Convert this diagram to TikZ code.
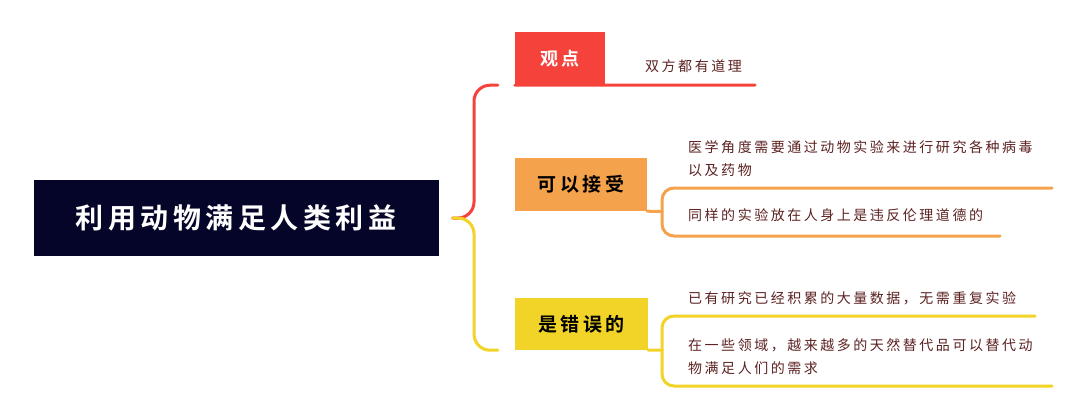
\documentclass[tikz,border=0pt]{standalone}
\usepackage{fontspec}
\usepackage{tikz}
\usetikzlibrary{calc, positioning}
\newfontfamily\cjk[LetterSpace=18, BoldFont={Noto Sans CJK SC Bold}]{Noto Sans CJK SC}
\newfontfamily\cjkwide[LetterSpace=16, BoldFont={Noto Sans CJK SC Bold}]{Noto Sans CJK SC}
\definecolor{navy}{HTML}{05052A}
\definecolor{redb}{HTML}{F5433B}
\definecolor{orangeb}{HTML}{F5A24C}
\definecolor{yellowb}{HTML}{F2D327}
\definecolor{leaftext}{HTML}{5C2121}
\tikzstyle{topic} = [rectangle, inner sep=0pt, text centered]
\tikzstyle{leaf} = [anchor=west, inner sep=0pt, align=left, text=leaftext, font=\cjk\fontsize{14}{23}\selectfont]
\tikzstyle{branch} = [line width=3pt, line cap=round, rounded corners=16pt]

\begin{document}
\begin{tikzpicture}[x=1pt, y=-1pt]
        \useasboundingbox (0,0) rectangle (1080,413);

        \node[topic, fill=navy, minimum width=405pt, minimum height=76pt, text=white,
              font=\cjkwide\bfseries\fontsize{28}{30}\selectfont] (root) at (236, 218) {利用动物满足人类利益};

        \node[topic, fill=redb, minimum width=90pt, minimum height=53pt, text=white,
              font=\cjk\bfseries\fontsize{18}{20}\selectfont] (view) at (560, 58.5) {观点};
        \node[topic, fill=orangeb, minimum width=132pt, minimum height=53pt, text=black,
              font=\cjk\bfseries\fontsize{19}{20}\selectfont] (accept) at (581, 184.5) {可以接受};
        \node[topic, fill=yellowb, minimum width=133pt, minimum height=52pt, text=black,
              font=\cjk\bfseries\fontsize{19}{20}\selectfont] (wrong) at (581.5, 324) {是错误的};

        \node[leaf] (view1) at (645, 66) {双方都有道理};
        \node[leaf] (accept1) at (688, 158.5) {医学角度需要通过动物实验来进行研究各种病毒\\以及药物};
        \node[leaf] (accept2) at (688, 215) {同样的实验放在人身上是违反伦理道德的};
        \node[leaf] (wrong1) at (688, 298) {已有研究已经积累的大量数据，无需重复实验};
        \node[leaf] (wrong2) at (688, 356.5) {在一些领域，越来越多的天然替代品可以替代动\\物满足人们的需求};

        \coordinate (fork) at ([xshift=14pt]root.east);
        \coordinate (viewend) at (755, 85);
        \coordinate (acc1end) at (1052, 188);
        \coordinate (acc2end) at (1000, 236);
        \coordinate (wr1end) at (1035, 316);
        \coordinate (wr2end) at (1052, 386);

        % main fork
        \draw[branch, redb] (fork) -| (474, 120) |- ([xshift=-17pt]view.south west);
        \draw[branch, yellowb] (fork) -| (474, 300) |- ([xshift=-17pt]wrong.south west);
        \draw[branch, redb, rounded corners=0pt] (view.south west) -- (viewend);

        % leaves
        \draw[branch, orangeb, rounded corners=0pt] (accept.south east) -- (662, 211.5);
        \draw[branch, orangeb, rounded corners=12pt] (662, 211.5) |- (acc1end);
        \draw[branch, orangeb, rounded corners=12pt] (662, 211.5) |- (acc2end);
        \draw[branch, yellowb, rounded corners=0pt] (wrong.south east) -- (662, 350);
        \draw[branch, yellowb, rounded corners=12pt] (662, 350) |- (wr1end);
        \draw[branch, yellowb, rounded corners=12pt] (662, 350) |- (wr2end);

    \end{tikzpicture}
\end{document}
